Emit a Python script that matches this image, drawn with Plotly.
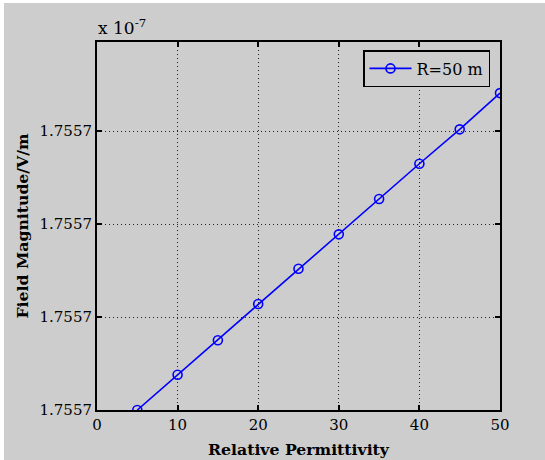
import plotly.graph_objects as go

permittivity = [5, 10, 15, 20, 25, 30, 35, 40, 45, 50]
field_e7 = [1.7557000, 1.7557038, 1.7557075, 1.7557114, 1.7557152,
            1.7557189, 1.7557227, 1.7557265, 1.7557302, 1.7557341]
y_tickvals = [1.75570, 1.75571, 1.75572, 1.75573]
y_ticktext = ["1.7557", "1.7557", "1.7557", "1.7557"]
x_tickvals = [0, 10, 20, 30, 40, 50]

W, H = 545, 460
L, R, T, B = 97, 45, 42, 50
pw, ph = W - L - R, H - T - B

font_fam = "DejaVu Serif, Liberation Serif, serif"
grey = "#cdcdcd"

fig = go.Figure()
fig.add_trace(go.Scatter(
    x=permittivity, y=field_e7, mode="lines+markers", name="R=50 m",
    line=dict(color="#0000ff", width=1.6),
    marker=dict(symbol="circle-open", size=9, color="#0000ff", line=dict(width=1.6, color="#0000ff")),
))

axis_common = dict(
    showline=True, linecolor="black", linewidth=2, mirror="ticks",
    ticks="inside", ticklen=5, tickwidth=1.5, tickcolor="black",
    showgrid=True, gridcolor="#222222", gridwidth=1, griddash="1px,3px",
    zeroline=False, automargin=False,
    tickfont=dict(family=font_fam, size=15, color="black"),
)

fig.update_xaxes(range=[0, 50], tickvals=x_tickvals,
                 title=dict(text="<b>Relative Permittivity</b>", font=dict(family=font_fam, size=15.7, color="black"), standoff=11),
                 **axis_common)
fig.update_yaxes(range=[1.75570, 1.7557396], tickvals=y_tickvals, ticktext=y_ticktext,
                 title=dict(text="<b>Field Magnitude/V/m</b>", font=dict(family=font_fam, size=15.7, color="black"), standoff=7),
                 **axis_common)

fig.add_shape(type="rect", xref="paper", yref="paper",
              x0=(4 - L) / pw, x1=(W + 5 - L) / pw,
              y0=-(B + 5) / ph, y1=(H - B - 3) / ph,
              fillcolor=grey, line=dict(width=0), layer="below")

fig.add_annotation(xref="paper", yref="paper", x=-0.002, y=(H - B - 27) / ph,
                   xanchor="left", yanchor="middle", showarrow=False,
                   text="x 10<sup>-7</sup>", font=dict(family=font_fam, size=17, color="black"))

fig.update_layout(
    width=W, height=H,
    margin=dict(l=L, r=R, t=T, b=B),
    paper_bgcolor="white", plot_bgcolor="rgba(0,0,0,0)",
    showlegend=True,
    legend=dict(x=(490 - L) / pw, y=(H - B - 50) / ph, xanchor="right", yanchor="top",
                bgcolor=grey, bordercolor="black", borderwidth=1.5,
                font=dict(family=font_fam, size=16, color="black"),
                itemwidth=42),
)

fig.write_html("out.html")
